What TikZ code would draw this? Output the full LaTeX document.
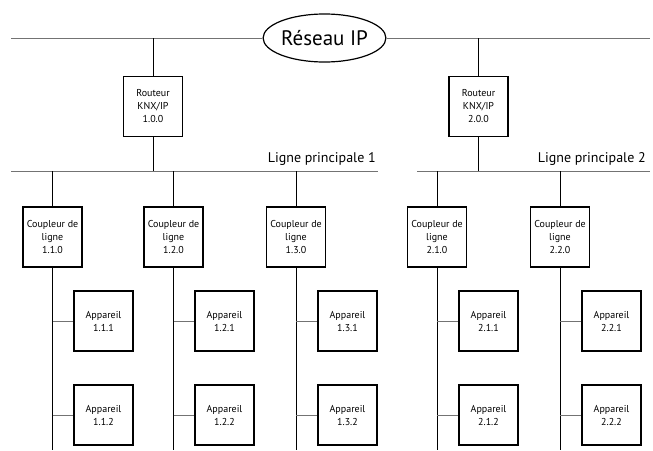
\documentclass[tikz,border=0pt]{standalone}
\usepackage{fontspec}
\setmainfont{PT Sans}
\usetikzlibrary{shapes.geometric}
\begin{document}
\begin{tikzpicture}[x=1pt,y=-1pt,
    hbus/.style={color=black!55, line width=1pt},
    vbus/.style={color=black, line width=0.9pt},
    boite/.style={draw, line width=1.6pt, minimum width=59pt, minimum height=60pt,
      inner sep=0, align=center, font=\fontsize{10}{13}\selectfont},
    etiquette/.style={anchor=base east, inner sep=0, font=\fontsize{14}{16}\selectfont}]
      \useasboundingbox (0,0) rectangle (653,450);
      % IP network
      \node[ellipse, draw, line width=1.2pt, minimum width=117pt, minimum height=48pt,
        inner sep=0, font=\fontsize{21}{24}\selectfont] (ip) at (324.5,38) {R\'eseau IP};
      \coordinate (ipL) at (11,38);
      \coordinate (ipR) at (650,38);
      \draw[hbus] (ipL) -- (ip.west);
      \draw[hbus] (ip.east) -- (ipR);
      % routers
      \node[boite] (r1) at (153,106.5) {Routeur\\KNX/IP\\1.0.0};
      \node[boite] (r2) at (478.5,106.5) {Routeur\\KNX/IP\\2.0.0};
      \draw[vbus] (r1 |- ipL) -- (r1);
      \draw[vbus] (r2 |- ipL) -- (r2);
      % main lines
      \coordinate (l1L) at (11,171);
      \coordinate (l1R) at (378,171);
      \coordinate (l2L) at (417,171);
      \coordinate (l2R) at (650,171);
      \draw[hbus] (l1L) -- (l1R);
      \draw[hbus] (l2L) -- (l2R);
      \node[etiquette] (lp1) at (376,162) {Ligne principale 1};
      \node[etiquette] (lp2) at (646,162) {Ligne principale 2};
      \draw[vbus] (r1) -- (r1 |- l1L);
      \draw[vbus] (r2) -- (r2 |- l2L);
      % line couplers
      \node[boite] (c11) at (52.5,237) {Coupleur de\\ligne\\1.1.0};
      \node[boite] (c12) at (173.5,237) {Coupleur de\\ligne\\1.2.0};
      \node[boite] (c13) at (296,237) {Coupleur de\\ligne\\1.3.0};
      \node[boite] (c21) at (437,237) {Coupleur de\\ligne\\2.1.0};
      \node[boite] (c22) at (560,237) {Coupleur de\\ligne\\2.2.0};
      \coordinate (bas) at (0,450);
      \draw[vbus] (c11 |- l1L) -- (c11) -- (c11 |- bas);
      \draw[vbus] (c12 |- l1L) -- (c12) -- (c12 |- bas);
      \draw[vbus] (c13 |- l1L) -- (c13) -- (c13 |- bas);
      \draw[vbus] (c21 |- l2L) -- (c21) -- (c21 |- bas);
      \draw[vbus] (c22 |- l2L) -- (c22) -- (c22 |- bas);
      % devices
      \node[boite] (a111) at (103.5,321) {Appareil\\1.1.1};
      \node[boite] (a112) at (103.5,415) {Appareil\\1.1.2};
      \node[boite] (a121) at (224.5,321) {Appareil\\1.2.1};
      \node[boite] (a122) at (224.5,415) {Appareil\\1.2.2};
      \node[boite] (a131) at (347.5,321) {Appareil\\1.3.1};
      \node[boite] (a132) at (347.5,415) {Appareil\\1.3.2};
      \node[boite] (a211) at (488.5,321) {Appareil\\2.1.1};
      \node[boite] (a212) at (488.5,415) {Appareil\\2.1.2};
      \node[boite] (a221) at (611.5,321) {Appareil\\2.2.1};
      \node[boite] (a222) at (611.5,415) {Appareil\\2.2.2};
      \draw[hbus] (a111 -| c11) -- (a111);
      \draw[hbus] (a112 -| c11) -- (a112);
      \draw[hbus] (a121 -| c12) -- (a121);
      \draw[hbus] (a122 -| c12) -- (a122);
      \draw[hbus] (a131 -| c13) -- (a131);
      \draw[hbus] (a132 -| c13) -- (a132);
      \draw[hbus] (a211 -| c21) -- (a211);
      \draw[hbus] (a212 -| c21) -- (a212);
      \draw[hbus] (a221 -| c22) -- (a221);
      \draw[hbus] (a222 -| c22) -- (a222);
\end{tikzpicture}
\end{document}
